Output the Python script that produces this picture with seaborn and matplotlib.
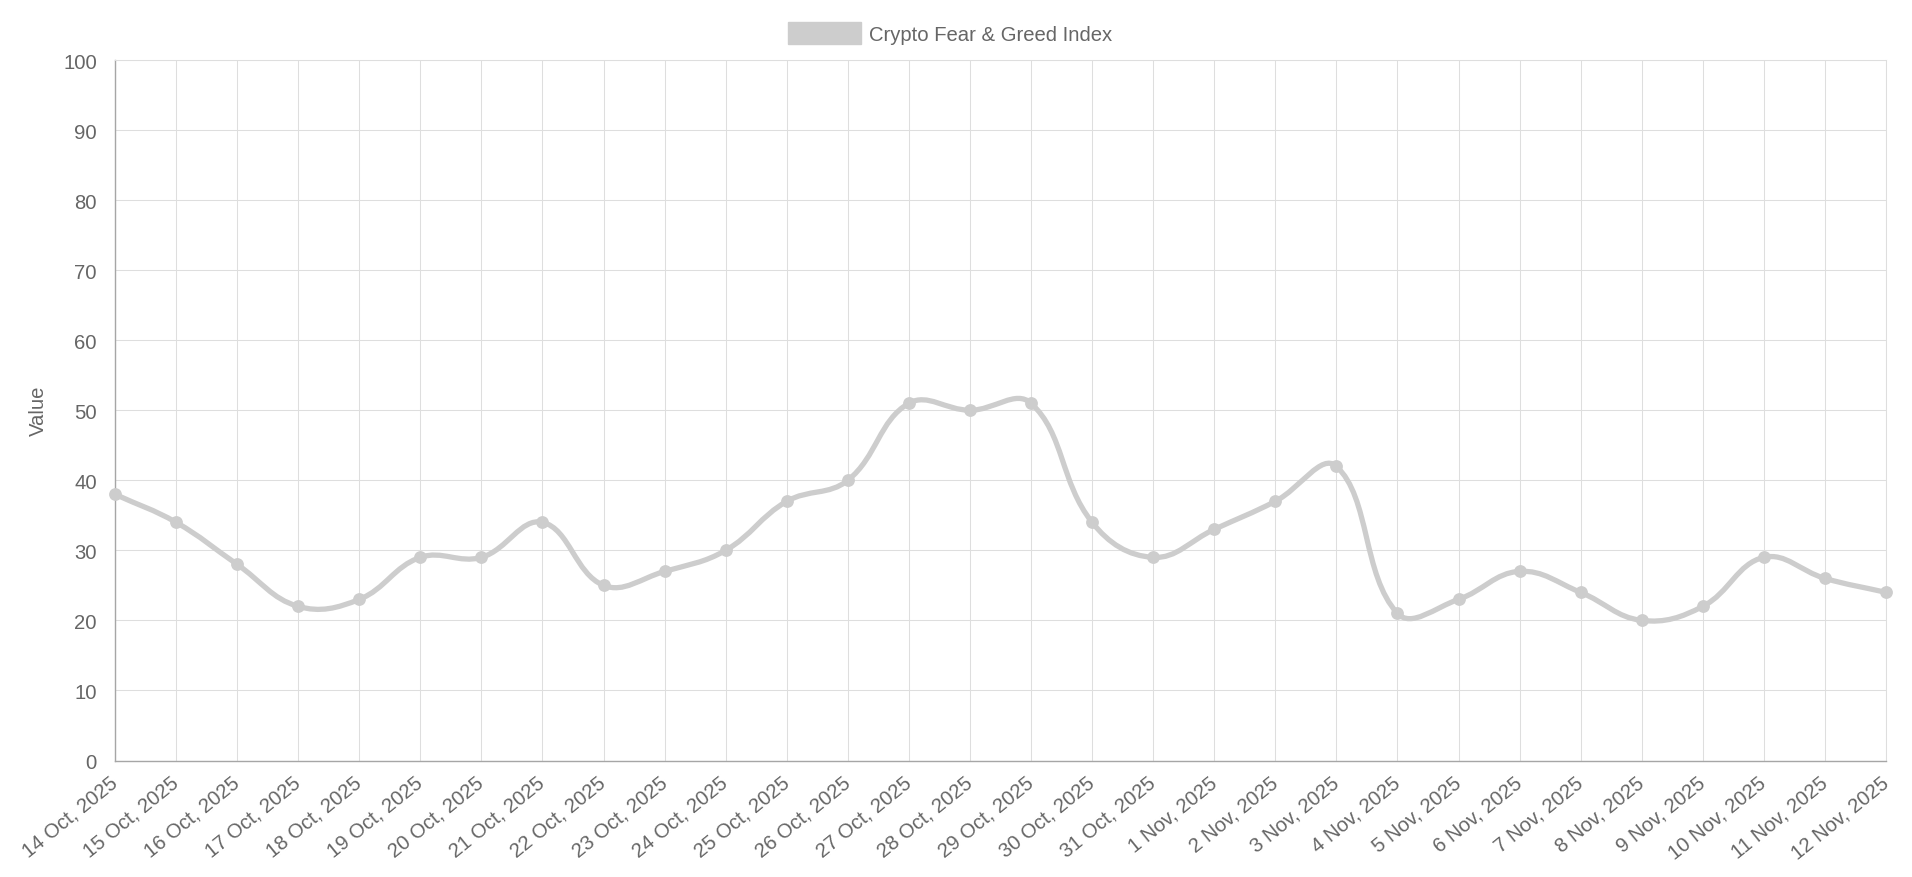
import numpy as np
import pandas as pd
import seaborn as sns
import matplotlib.pyplot as plt
from matplotlib.path import Path
from matplotlib.patches import PathPatch, Patch

# Data
dates = [
    "14 Oct, 2025", "15 Oct, 2025", "16 Oct, 2025", "17 Oct, 2025", "18 Oct, 2025",
    "19 Oct, 2025", "20 Oct, 2025", "21 Oct, 2025", "22 Oct, 2025", "23 Oct, 2025",
    "24 Oct, 2025", "25 Oct, 2025", "26 Oct, 2025", "27 Oct, 2025", "28 Oct, 2025",
    "29 Oct, 2025", "30 Oct, 2025", "31 Oct, 2025", "1 Nov, 2025", "2 Nov, 2025",
    "3 Nov, 2025", "4 Nov, 2025", "5 Nov, 2025", "6 Nov, 2025", "7 Nov, 2025",
    "8 Nov, 2025", "9 Nov, 2025", "10 Nov, 2025", "11 Nov, 2025", "12 Nov, 2025",
]
values = [38, 34, 28, 22, 23, 29, 29, 34, 25, 27,
          30, 37, 40, 51, 50, 51, 34, 29, 33, 37,
          42, 21, 23, 27, 24, 20, 22, 29, 26, 24]
series_name = "Crypto Fear & Greed Index"
y_ticks = list(range(0, 101, 10))

df = pd.DataFrame({"idx": range(len(dates)), "value": values})

LINE = "#cdcdcd"
GRID = "#dedede"
AXIS = "#a6a6a6"
TEXT = "#666666"
FS = 14.6


def spline_path(ax, xs, ys, tension=0.4):
    # bezier control points computed in pixel space, like chart.js
    pts = ax.transData.transform(np.column_stack([xs, ys]))
    bb = ax.get_window_extent()
    n = len(pts)
    cp_prev = np.zeros_like(pts)
    cp_next = np.zeros_like(pts)
    for i in range(n):
        prev = pts[max(i - 1, 0)]
        cur = pts[i]
        nxt = pts[min(i + 1, n - 1)]
        d01 = np.hypot(*(cur - prev))
        d12 = np.hypot(*(nxt - cur))
        tot = d01 + d12
        s01 = d01 / tot if tot else 0
        s12 = d12 / tot if tot else 0
        cp_prev[i] = cur - tension * s01 * (nxt - prev)
        cp_next[i] = cur + tension * s12 * (nxt - prev)
    for arr in (cp_prev, cp_next):
        arr[:, 0] = np.clip(arr[:, 0], bb.x0, bb.x1)
        arr[:, 1] = np.clip(arr[:, 1], bb.y0, bb.y1)
    verts = [pts[0]]
    codes = [Path.MOVETO]
    for i in range(n - 1):
        verts += [cp_next[i], cp_prev[i + 1], pts[i + 1]]
        codes += [Path.CURVE4] * 3
    inv = ax.transData.inverted()
    return Path(inv.transform(np.array(verts)), codes)


sns.set_theme(style="white")
plt.rcParams["font.family"] = ["Liberation Sans", "DejaVu Sans"]

fig = plt.figure(figsize=(19.12, 8.78), dpi=100)
ax = fig.add_axes([115 / 1912, (878 - 761.5) / 878, (1886 - 115) / 1912, (761.5 - 61) / 878])
ax.set_xlim(0, len(dates) - 1)
ax.set_ylim(0, 100)

path = spline_path(ax, df["idx"].values, df["value"].values)
ax.add_patch(PathPatch(path, facecolor="none", edgecolor=LINE, lw=3.8,
                       capstyle="round", joinstyle="round", zorder=3, clip_on=False))
sns.scatterplot(data=df, x="idx", y="value", ax=ax, s=85, color=LINE,
                edgecolor=LINE, linewidth=0, zorder=4, clip_on=False, legend=False)

ax.set_xticks(df["idx"])
ax.set_xticklabels(dates, rotation=39, ha="right", va="center", rotation_mode="anchor")
ax.set_yticks(y_ticks)
ax.set_yticklabels([str(t) for t in y_ticks])
ax.tick_params(axis="x", length=12, width=0.75, color=GRID, pad=2, labelsize=FS, labelcolor=TEXT)
ax.tick_params(axis="y", length=11, width=0.75, color=GRID, pad=2, labelsize=FS, labelcolor=TEXT)
ax.grid(True, color=GRID, lw=0.75)
ax.set_axisbelow(True)
for side in ("top", "right"):
    ax.spines[side].set_color(GRID)
    ax.spines[side].set_linewidth(0.75)
for side in ("left", "bottom"):
    ax.spines[side].set_color(AXIS)
    ax.spines[side].set_linewidth(1.0)

ax.set_xlabel("")
ax.set_ylabel("Value", fontsize=FS, color=TEXT, labelpad=11)

handle = Patch(facecolor=LINE, edgecolor=LINE, lw=1)
fig.legend([handle], [series_name], loc="center", bbox_to_anchor=(0.497, 0.961),
           frameon=False, fontsize=FS, labelcolor=TEXT, handlelength=3.6,
           handleheight=1.3, handletextpad=0.4, borderpad=0)

fig.savefig("out.png", dpi=100)
